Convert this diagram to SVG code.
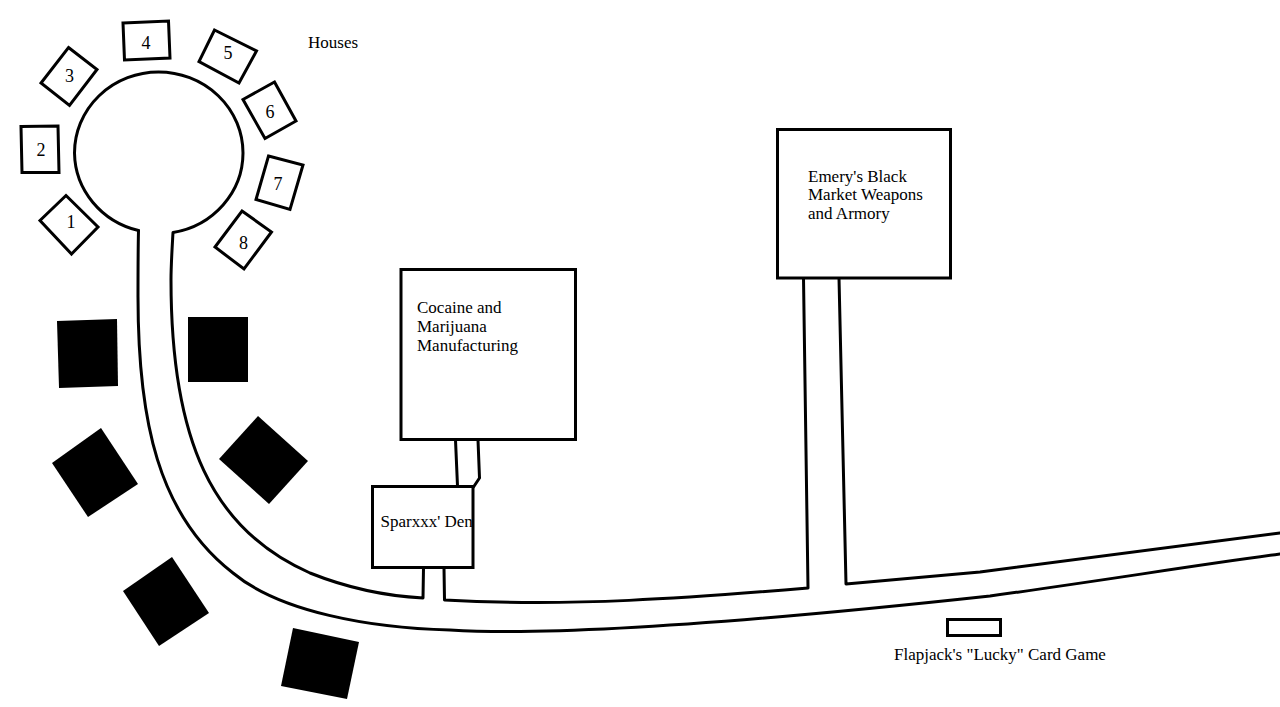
<svg xmlns="http://www.w3.org/2000/svg" width="1280" height="707" viewBox="0 0 1280 707">
<style>
.b{fill:#fff;stroke:#000;stroke-width:3}
.k{fill:#000;stroke:none}
.r{fill:none;stroke:#000;stroke-width:3;stroke-linejoin:round;stroke-linecap:round}
text{font-family:"Liberation Serif","Times New Roman",serif;font-size:17px;fill:#000}
.n{text-anchor:middle;font-size:18px}
</style>
<rect width="1280" height="707" fill="#fff"/>
<g id="connectors">
<path class="r" d="M138.500 230.500A84.500 81 0 0 1 74.500 153A84 81 0 0 1 158.500 72A84.500 81 0 0 1 243 153A84.500 81 0 0 1 173 232.500C172 250 171 265 171 280C171 440 212 530 310 573C345 587 385 596 423 598L423.500 568"/>
<path class="r" d="M138.500 230.500C138 252 138 275 138 297C138 420 158 515 233 573C280 612 370 628 450 630C560 637 760 621 990 596C1100 581 1190 566 1280 554"/>
<path class="r" d="M444 568L444.500 600C570 607 690 598 808 588L803.500 278"/>
<path class="r" d="M839 278L846 584L980 572L1280 533"/>
<path class="r" d="M455.500 440L457.500 486M478 440L479.500 478L473.500 487"/>
</g>
<g id="hub-label"><text x="308" y="48">Houses</text></g>
<g id="house-1"><polygon class="b" points="66,195.500 98,227 71.500,254 40,220.500"/><text class="n" x="71" y="228">1</text></g>
<g id="house-2"><polygon class="b" points="21,126.500 58,126 59,172.500 22,172.500"/><text class="n" x="41" y="156">2</text></g>
<g id="house-3"><polygon class="b" points="68.500,47.500 97,69.500 69.500,105.500 41,83"/><text class="n" x="69.500" y="82">3</text></g>
<g id="house-4"><polygon class="b" points="123,23 168.500,21 170,58 124.500,60"/><text class="n" x="146" y="49">4</text></g>
<g id="house-5"><polygon class="b" points="214.500,30 256.500,51 239,83 199,61.500"/><text class="n" x="228" y="59">5</text></g>
<g id="house-6"><polygon class="b" points="274.500,82 296,121 265,138.500 243,99.500"/><text class="n" x="270" y="118">6</text></g>
<g id="house-7"><polygon class="b" points="268.500,156 303,165 290,209.500 256,199.500"/><text class="n" x="278" y="190">7</text></g>
<g id="house-8"><polygon class="b" points="242,211 271.500,232 244,269 215,247"/><text class="n" x="243.500" y="249">8</text></g>
<g id="black-1"><polygon class="k" points="57,321 117,319 118,386 59,388"/></g>
<g id="black-2"><rect class="k" x="188" y="317" width="60" height="65"/></g>
<g id="black-3"><polygon class="k" points="52,463 101,428 138,484 88,517"/></g>
<g id="black-4"><polygon class="k" points="258,416 308,461 269,504 219,459"/></g>
<g id="black-5"><polygon class="k" points="123,591 172,557 209,613 159,646"/></g>
<g id="black-6"><polygon class="k" points="293,628 359,642 347,699 281,686"/></g>
<g id="cocaine"><rect class="b" x="401" y="269.500" width="174.500" height="170"/><text x="417" y="313">Cocaine and</text><text x="417" y="332">Marijuana</text><text x="417" y="351">Manufacturing</text></g>
<g id="sparxxx"><rect class="b" x="372.500" y="486.500" width="100.500" height="81"/><text x="380.500" y="527">Sparxxx' Den</text></g>
<g id="emery"><rect class="b" x="777.500" y="129.500" width="173" height="148.500"/><text x="808" y="182">Emery's Black</text><text x="808" y="200">Market Weapons</text><text x="808" y="219">and Armory</text></g>
<g id="card-game"><rect class="b" x="947.500" y="619.500" width="53" height="16"/><text x="894" y="660">Flapjack's "Lucky" Card Game</text></g>
</svg>
